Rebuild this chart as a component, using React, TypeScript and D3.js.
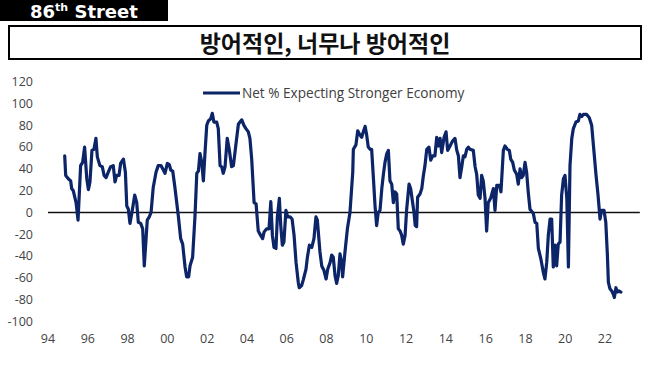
import React from 'react';
import * as d3 from 'd3';

const W = 658;
const H = 373;

const headerLabel = '86';
const titleText = '방어적인, 너무나 방어적인';
const seriesName = 'Net % Expecting Stronger Economy';

const yTicks = [120, 100, 80, 60, 40, 20, 0, -20, -40, -60, -80, -100];
const xTickYears = [1994, 1996, 1998, 2000, 2002, 2004, 2006, 2008, 2010, 2012, 2014, 2016, 2018, 2020, 2022];

// decimal year, net %
const dates = [
  1994.84, 1994.89, 1995.02, 1995.14, 1995.19, 1995.27, 1995.41, 1995.51, 1995.57, 1995.64,
  1995.74, 1995.84, 1995.95, 1996.03, 1996.11, 1996.21, 1996.31, 1996.41, 1996.48, 1996.61,
  1996.73, 1996.82, 1996.92, 1997.03, 1997.15, 1997.28, 1997.37, 1997.45, 1997.57, 1997.65,
  1997.79, 1997.89, 1997.96, 1998.04, 1998.12, 1998.22, 1998.36, 1998.46, 1998.54, 1998.66,
  1998.76, 1998.84, 1998.93, 1998.99, 1999.09, 1999.18, 1999.29, 1999.43, 1999.54, 1999.68,
  1999.80, 1999.88, 2000.00, 2000.10, 2000.17, 2000.27, 2000.38, 2000.55, 2000.67, 2000.77,
  2000.89, 2000.97, 2001.07, 2001.14, 2001.27, 2001.39, 2001.48, 2001.56, 2001.64, 2001.73,
  2001.81, 2001.89, 2001.98, 2002.06, 2002.18, 2002.26, 2002.34, 2002.48, 2002.56, 2002.65,
  2002.73, 2002.81, 2002.90, 2003.01, 2003.11, 2003.23, 2003.32, 2003.45, 2003.57, 2003.65,
  2003.74, 2003.85, 2003.95, 2004.07, 2004.15, 2004.24, 2004.36, 2004.46, 2004.57, 2004.69,
  2004.79, 2004.86, 2004.99, 2005.11, 2005.20, 2005.28, 2005.36, 2005.46, 2005.53, 2005.63,
  2005.70, 2005.78, 2005.86, 2005.96, 2006.05, 2006.17, 2006.27, 2006.37, 2006.47, 2006.58,
  2006.63, 2006.75, 2006.83, 2006.97, 2007.04, 2007.14, 2007.26, 2007.37, 2007.47, 2007.54,
  2007.67, 2007.76, 2007.87, 2007.98, 2008.06, 2008.18, 2008.26, 2008.34, 2008.43, 2008.51,
  2008.59, 2008.68, 2008.76, 2008.81, 2008.93, 2009.05, 2009.18, 2009.32, 2009.35, 2009.48,
  2009.57, 2009.65, 2009.77, 2009.85, 2009.94, 2010.02, 2010.10, 2010.19, 2010.27, 2010.35,
  2010.44, 2010.52, 2010.60, 2010.69, 2010.78, 2010.86, 2010.94, 2011.03, 2011.11, 2011.19,
  2011.28, 2011.36, 2011.44, 2011.53, 2011.61, 2011.70, 2011.78, 2011.86, 2011.95, 2012.03,
  2012.15, 2012.23, 2012.33, 2012.40, 2012.46, 2012.53, 2012.58, 2012.70, 2012.79, 2012.87,
  2012.95, 2013.04, 2013.15, 2013.24, 2013.34, 2013.45, 2013.54, 2013.62, 2013.71, 2013.79,
  2013.91, 2014.01, 2014.09, 2014.21, 2014.32, 2014.46, 2014.55, 2014.63, 2014.71, 2014.80,
  2014.88, 2014.96, 2015.05, 2015.13, 2015.21, 2015.38, 2015.47, 2015.55, 2015.63, 2015.72,
  2015.80, 2015.88, 2015.97, 2016.05, 2016.13, 2016.25, 2016.39, 2016.47, 2016.56, 2016.69,
  2016.77, 2016.89, 2016.97, 2017.09, 2017.19, 2017.26, 2017.36, 2017.44, 2017.56, 2017.64,
  2017.73, 2017.81, 2017.89, 2017.98, 2018.06, 2018.14, 2018.23, 2018.40, 2018.48, 2018.57,
  2018.65, 2018.77, 2018.90, 2018.98, 2019.07, 2019.15, 2019.24, 2019.32, 2019.40, 2019.49,
  2019.57, 2019.65, 2019.74, 2019.82, 2019.91, 2019.99, 2020.08, 2020.16, 2020.24, 2020.33,
  2020.41, 2020.54, 2020.66, 2020.74, 2020.83, 2020.91, 2021.08, 2021.21, 2021.33, 2021.45,
  2021.55, 2021.65, 2021.75, 2021.83, 2021.95, 2022.04, 2022.12, 2022.17, 2022.25, 2022.34,
  2022.42, 2022.47, 2022.55, 2022.62, 2022.70, 2022.80,
];

const netPct = [
  52, 34, 31, 29, 22, 20, 9, -7, 16, 43,
  46, 60, 31, 21, 28, 57, 58, 68, 51, 43,
  42, 34, 32, 37, 42, 43, 28, 34, 34, 45,
  49, 37, 6, 3, -10, 0, 16, 9, -9, -10,
  -15, -49, -24, -7, -4, 0, 23, 37, 43, 43,
  39, 36, 45, 44, 39, 38, 23, -3, -24, -29,
  -50, -59, -59, -49, -41, -3, 36, 38, 54, 46,
  29, 54, 80, 84, 86, 91, 83, 83, 77, 43,
  42, 36, 42, 68, 58, 42, 43, 63, 81, 83,
  85, 80, 77, 74, 68, 49, 9, 8, -17, -21,
  -24, -18, -15, -15, 10, -21, -32, -33, -4, 13,
  -12, -30, -27, 2, -4, -4, -6, -21, -46, -64,
  -69, -67, -62, -52, -41, -30, -32, -24, -4, -7,
  -36, -49, -53, -61, -52, -46, -39, -41, -58, -65,
  -58, -38, -46, -59, -36, -15, 0, 37, 58, 62,
  75, 72, 69, 74, 79, 71, 60, 58, 58, 34,
  6, -12, 0, 2, 22, 35, 46, 54, 57, 29,
  26, 9, 19, 17, -15, -17, -21, -29, -21, 3,
  26, 22, 9, 0, -12, -13, 14, 17, 22, 34,
  43, 58, 60, 48, 52, 52, 69, 61, 68, 55,
  69, 74, 57, 61, 65, 68, 57, 52, 32, 42,
  52, 51, 58, 60, 58, 57, 42, 35, 16, 13,
  34, 29, 13, -17, 9, 13, 22, 2, 25, 25,
  19, 57, 61, 58, 57, 49, 46, 39, 35, 26,
  40, 32, 34, 46, 37, 19, 3, -1, -9, -10,
  -33, -42, -55, -61, -46, -21, -6, -6, -50, -30,
  -49, -29, -27, 16, 31, 34, 13, -50, 43, 68,
  77, 83, 84, 90, 88, 90, 90, 87, 80, 55,
  34, 16, -6, 2, 2, -9, -39, -64, -70, -72,
  -75, -78, -69, -73, -72, -73,
];

const lineColor = '#0c2468';
const axisFont = "'Open Sans', 'Noto Sans', sans-serif";

export default function App() {
  const x = d3.scaleLinear().domain([1994, 2022]).range([48, 605]);
  const y = d3.scaleLinear().domain([-100, 120]).range([321.5, 81.7]);

  const points = dates.map((d, i) => [d, netPct[i]] as [number, number]);
  const path = d3.line<[number, number]>()
    .x(d => x(d[0]))
    .y(d => y(d[1]))(points) || '';

  return (
    <svg width={W} height={H} style={{ position: 'absolute', left: 0, top: 0, background: '#fff' }}>
      <rect x={0} y={0} width={W} height={H} fill="#fff" />

      {/* header tag */}
      <rect x={0} y={0} width={168} height={21} fill="#000" />
      <text x={30} y={18} fill="#fff" fontFamily="'DejaVu Sans', sans-serif" fontWeight="bold" fontSize={18}>
        {headerLabel}
        <tspan fontSize={11} dy={-7}>th</tspan>
        <tspan dy={7}> Street</tspan>
      </text>

      {/* title box */}
      <rect x={9} y={26} width={632} height={33} fill="#fff" stroke="#000" strokeWidth={2} />
      <text x={325} y={51.5} textAnchor="middle" fontFamily="'Noto Sans CJK KR', sans-serif" fontWeight="bold" fontSize={23} fill="#111">
        {titleText}
      </text>

      {/* y tick labels */}
      {yTicks.map(t => (
        <text key={t} x={33} y={y(t)} dy="0.35em" textAnchor="end" fontFamily={axisFont} fontSize={12.5} fill="#444">
          {t}
        </text>
      ))}

      {/* x tick labels */}
      {xTickYears.map(t => (
        <text key={t} x={x(t)} y={343} textAnchor="middle" fontFamily={axisFont} fontSize={12.5} fill="#444">
          {String(t % 100).padStart(2, '0')}
        </text>
      ))}

      {/* zero line */}
      <line x1={x(1994)} x2={x(2023.75)} y1={y(0)} y2={y(0)} stroke="#111" strokeWidth={1.5} />

      {/* series */}
      <path d={path} fill="none" stroke={lineColor} strokeWidth={3.2} strokeLinejoin="round" strokeLinecap="round" />

      {/* legend */}
      <line x1={203} x2={240} y1={93} y2={93} stroke={lineColor} strokeWidth={3} />
      <text x={242} y={98} fontFamily={axisFont} fontSize={13.6} fill="#404040">
        {seriesName}
      </text>
    </svg>
  );
}
